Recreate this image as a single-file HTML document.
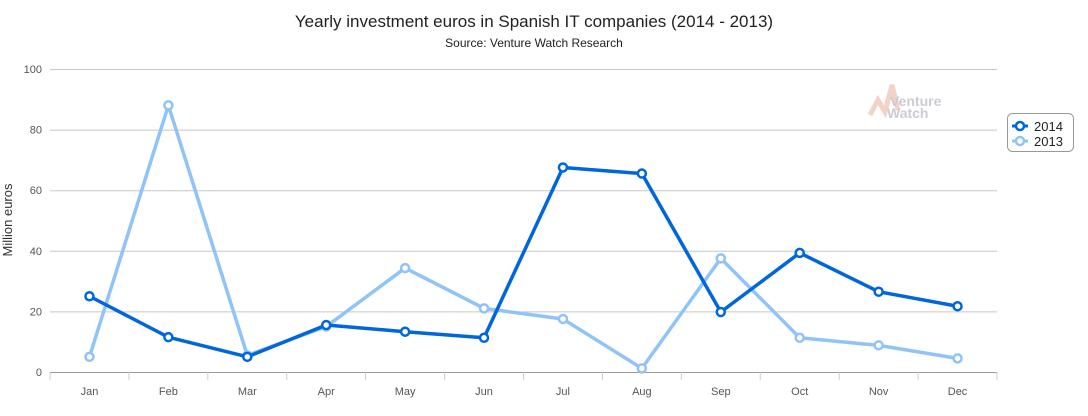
<!DOCTYPE html>
<html><head><meta charset="utf-8"><style>
body{margin:0;background:#fff;width:1088px;height:411px;overflow:hidden;font-family:"Liberation Sans",sans-serif}
</style></head><body>
<svg id="chart" width="1088" height="411" xmlns="http://www.w3.org/2000/svg">
<text x="534" y="27" text-anchor="middle" font-size="17" fill="#222">Yearly investment euros in Spanish IT companies (2014 - 2013)</text>
<text x="534" y="47" text-anchor="middle" font-size="12" fill="#222">Source: Venture Watch Research</text>
<text transform="translate(12,220) rotate(-90)" text-anchor="middle" font-size="13" fill="#333">Million euros</text>
<g opacity="0.5">
<path d="M870 115 L878 100 L885 112 L892 85 L898 110" stroke="#e8a890" stroke-width="5" fill="none"/>
<text x="890" y="106" font-size="14" font-weight="bold" fill="#99a">Venture</text>
<text x="887" y="118" font-size="14" font-weight="bold" fill="#99a">Watch</text>
</g>
<g id="grid"></g><g id="axes"></g><g id="series"></g>
<g>
<rect x="1007.5" y="113.5" width="66" height="38" rx="5" fill="#fff" stroke="#999"/>
<g>
<line x1="1012" y1="126" x2="1028" y2="126" stroke="#0066dd" stroke-width="3"/>
<circle cx="1020" cy="126" r="4" fill="#fff" stroke="#0066dd" stroke-width="2.5"/>
<text x="1034" y="131" font-size="13" fill="#222">2014</text></g>
<g>
<line x1="1012" y1="141" x2="1028" y2="141" stroke="#90c4f8" stroke-width="3"/>
<circle cx="1020" cy="141" r="4" fill="#fff" stroke="#90c4f8" stroke-width="2.5"/>
<text x="1034" y="146" font-size="13" fill="#222">2013</text></g>
</g>
</svg>
<script>
const categories=["Jan","Feb","Mar","Apr","May","Jun","Jul","Aug","Sep","Oct","Nov","Dec"];
const values2014=[25,11.5,5,15.5,13.3,11.3,67.5,65.5,19.8,39.3,26.5,21.7];
const values2013=[5,88,5.5,15,34.3,21,17.5,1.2,37.5,11.3,8.8,4.5];
const yTicks=[0,20,40,60,80,100];
const NS="http://www.w3.org/2000/svg";
const plotLeft=50,plotRight=997,plotTop=69,plotBottom=372,yMax=100;
const bw=(plotRight-plotLeft)/categories.length;
const xs=i=>plotLeft+bw*(i+0.5);
const ys=v=>plotBottom-(v/yMax)*(plotBottom-plotTop);
function mk(t,a,p){const e=document.createElementNS(NS,t);for(const k in a)e.setAttribute(k,a[k]);p.appendChild(e);return e;}
const gridG=document.getElementById('grid'),axesG=document.getElementById('axes'),serG=document.getElementById('series');
yTicks.forEach(v=>{
 const l=mk('line',{x1:plotLeft,x2:plotRight,y1:ys(v)+0.5,y2:ys(v)+0.5,stroke:v===0?'#999':'#c8c8c8'},gridG);
 
 
 const t=mk('text',{x:42,y:ys(v)+4,'text-anchor':'end','font-size':11,fill:'#555'},axesG);
 t.textContent=v;
 
 
});
for(let i=0;i<=categories.length;i++){
 const tk=mk('line',{x1:plotLeft+bw*i,x2:plotLeft+bw*i,y1:plotBottom,y2:plotBottom+8,stroke:'#c0d0e0'},axesG);
 
 
}
categories.forEach((c,i)=>{
 const t=mk('text',{x:xs(i),y:plotBottom+23,'text-anchor':'middle','font-size':11,fill:'#555'},axesG);
 t.textContent=c;
 
 
});
function drawSeries(vals,color,name){
 const g=mk('g',{},serG);
 
 
 const p=mk('polyline',{points:vals.map((v,i)=>xs(i)+','+ys(v)).join(' '),fill:'none',stroke:color,'stroke-width':3.5,'stroke-linejoin':'round'},g);
 
 
 vals.forEach((v,i)=>{
  const c=mk('circle',{cx:xs(i),cy:ys(v),r:4,fill:'#fff',stroke:color,'stroke-width':2.5},g);
  
  
 });
}
drawSeries(values2013,'#90c4f8','2013');
drawSeries(values2014,'#0066dd','2014');
</script>
</body></html>
